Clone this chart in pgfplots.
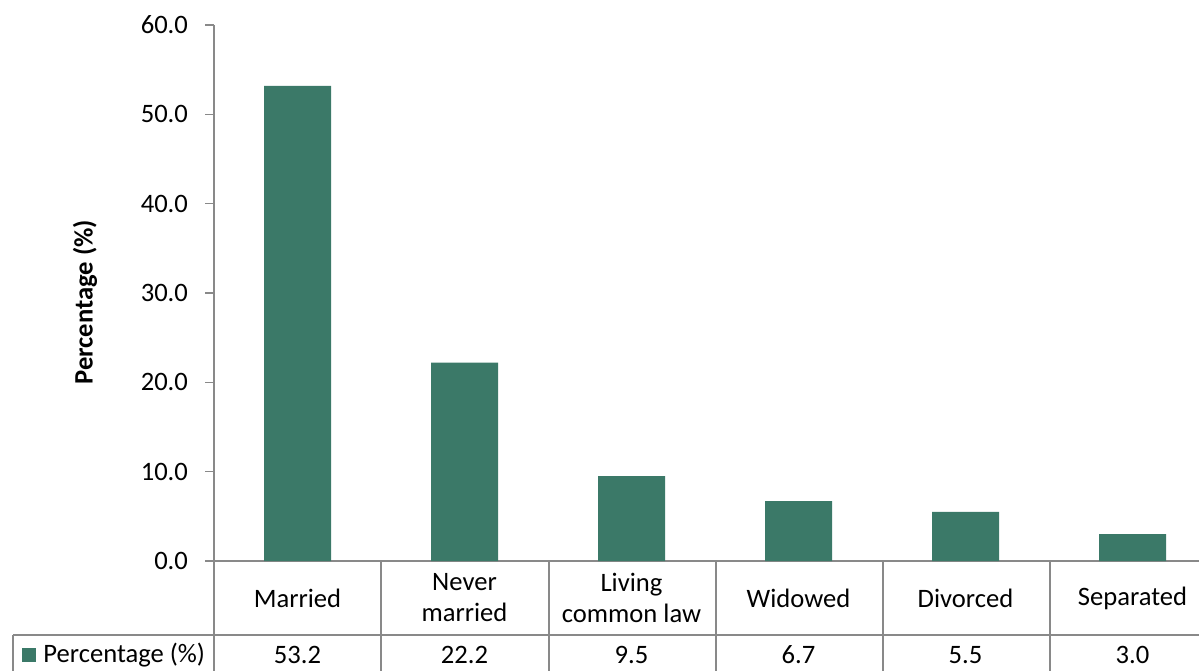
\documentclass[border=0pt]{standalone}
\usepackage{pgfplots}
\pgfplotsset{compat=1.18}
\usepackage{fontspec}
\setmainfont{Carlito}
\definecolor{barteal}{RGB}{59,121,104}
\definecolor{axgray}{RGB}{137,137,137}
\newcommand{\fs}{\fontsize{13.3}{15.5}\selectfont}

\begin{document}
\begin{tikzpicture}[x=0.5pt,y=-0.5pt]
\path[use as bounding box] (0,0) rectangle (1199,670);
\begin{axis}[
    at={(107pt,-280.5pt)}, anchor=south west,
    scale only axis,
    width=501pt, height=268pt,
    ybar, bar width=33.5pt,
    xmin=-0.5, xmax=5.5,
    ymin=0, ymax=60,
    ytick={0,10,...,60},
    xtick={0,...,5},
    xticklabels={Married,Never\\married,Living\\common law,Widowed,Divorced,Separated},
    axis x line*=bottom, axis y line*=left,
    axis line style={draw=axgray, line width=0.8pt},
    x axis line style={-}, y axis line style={-},
    major x tick style={draw=none},
    major y tick style={draw=axgray, line width=0.8pt},
    tick align=outside, major tick length=4.5pt,
    /pgf/number format/fixed, /pgf/number format/fixed zerofill,
    /pgf/number format/precision=1, /pgf/number format/assume math mode=true,
    xticklabel style={anchor=center, yshift=-14pt, align=center, font=\fs},
    yticklabel style={font=\fs, xshift=-5pt},
    ylabel={\textbf{Percentage (\%)}},
    every axis y label/.style={at={(rel axis cs:-0.1287,0.483)}, rotate=90, anchor=center, font=\fs},
    clip=false,
]
\addplot[fill=barteal, draw=none] coordinates {(0,53.2) (1,22.2) (2,9.5) (3,6.7) (4,5.5) (5,3.0)};
\end{axis}
% data table grid
\draw[axgray, line width=0.8pt] (214,561) -- (214,680);
\foreach \xx in {381,549,716,883,1050} \draw[axgray, line width=0.8pt] (\xx,561) -- (\xx,680);
\draw[axgray, line width=0.8pt] (13,635) -- (1220,635);
\draw[axgray, line width=0.8pt] (13,635) -- (13,680);
\fill[barteal] (22,648) rectangle (36,662);
\node[anchor=west, font=\fs, inner sep=0pt] at (43,655) {Percentage (\%)};
\foreach \xx/\v in {297.5/53.2, 464.5/22.2, 631.5/9.5, 798.5/6.7, 965.5/5.5, 1132.5/3.0}
  \node[font=\fs] at (\xx,655) {\v};
\end{tikzpicture}
\end{document}
